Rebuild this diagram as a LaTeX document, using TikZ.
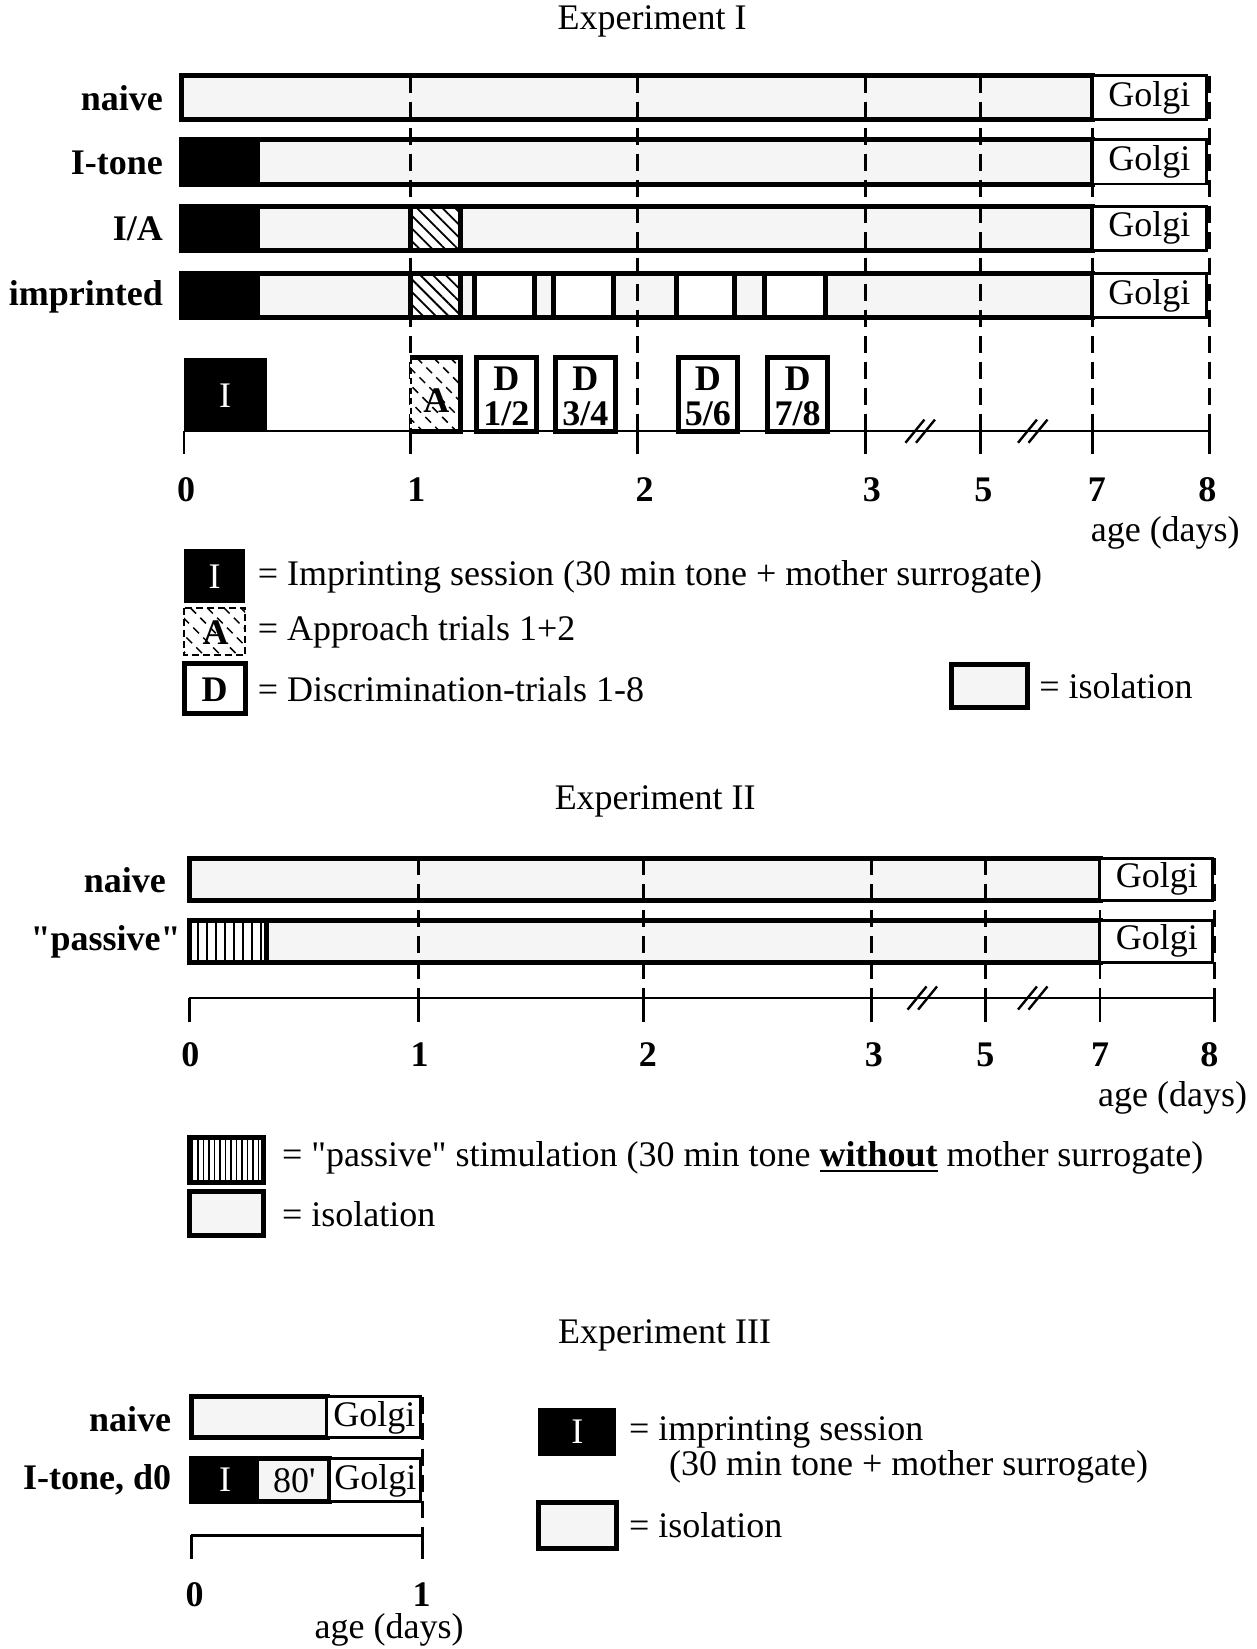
\documentclass[tikz,border=0pt]{standalone}
\usepackage{fontspec}
\setmainfont{Liberation Serif}
\usetikzlibrary{patterns.meta}
\newcommand\thickul[1]{\setbox0=\hbox{#1}\rlap{\rule[-6pt]{\wd0}{2.5pt}}\box0\relax}
\newcommand\dashhatch[4]{\begin{scope}\clip (#1,#2) rectangle (#3,#4);
  \foreach \k in {-90,-74,...,70} \draw[line width=1.5pt, dash pattern=on 8pt off 6pt] (#1+\k,#2) -- ++(100,100);
  \end{scope}}
\begin{document}
\begin{tikzpicture}[x=1.0519pt,y=-1.0519pt,
  every node/.style={font=\fontsize{36}{38}\selectfont, inner sep=0pt},
  lbl/.style={anchor=east, font=\fontsize{36}{38}\selectfont\bfseries},
  num/.style={font=\fontsize{36}{38}\selectfont\bfseries},
  bnode/.style={font=\fontsize{36}{35}\selectfont\bfseries, align=center},
  txt/.style={anchor=west},
  barline/.style={line width=5pt},
  iso/.style={fill=black!4},
  golgibox/.style={draw, line width=2.8pt, fill=white},
  dayline/.style={line width=2.8pt, dash pattern=on 17pt off 9pt},
  tickline/.style={line width=2.8pt},
  axisline/.style={line width=2.6pt},
  brk/.style={line width=2.4pt},
  hatch/.style={pattern={Lines[angle=-45,distance=9pt,line width=1.8pt]}},
  vstripe/.style={pattern={Lines[angle=90,distance=9pt,line width=2pt]}},
  vstripesmall/.style={pattern={Lines[angle=90,distance=5.5pt,line width=1.6pt]}},
]
\useasboundingbox (0,0) rectangle (1195,1568);

%%%%%%%%%%%%%%%% Experiment I
\node (t1) at (620,20) {Experiment I};
\node[lbl] (l1a) at (155,93) {naive};
\node[lbl] (l1b) at (155,155) {I-tone};
\node[lbl] (l1c) at (155,218) {I/A};
\node[lbl] (l1d) at (155,282) {imprinted};

% fills
\fill[iso] (173,72) rectangle (1039,114);
\fill[iso] (173,133) rectangle (1039,175);
\fill[black] (173,133) rectangle (247,175);
\fill[iso] (173,196) rectangle (1039,238);
\fill[black] (173,196) rectangle (247,238);
\fill[white] (390,196) rectangle (438,238);
\path[hatch] (390,196) rectangle (438,238);
\fill[iso] (173,260) rectangle (1039,302);
\fill[black] (173,260) rectangle (247,302);
\fill[white] (390,260) rectangle (438,302);
\path[hatch] (390,260) rectangle (438,302);
\foreach \a/\b in {451/508,526/583,643/698,727/785} \fill[white] (\a,260) rectangle (\b,302);

% day lines
\foreach \d in {390,606,823,932,1039,1150} \draw[dayline] (\d,72) -- (\d,410);

% borders
\draw[barline] (173,72) rectangle (1039,114);
\draw[barline] (173,133) rectangle (1039,175);
\draw[barline] (173,196) rectangle (1039,238);
\draw[barline] (173,260) rectangle (1039,302);
\foreach \v in {390,438} \draw[barline] (\v,196) -- (\v,238);
\foreach \v in {390,438,451,508,526,583,643,698,727,785} \draw[barline] (\v,260) -- (\v,302);
\foreach \y/\n in {72/ga,133/gb,196/gc,260/gd} {
  \draw[golgibox] (1039,\y) rectangle (1147,\y+42);
  \node (\n) at (1093,\y+21) {Golgi};
}

% event boxes
\fill[black] (175,340) rectangle (254,410);
\node[text=white] (tI) at (214,376) {I};
\fill[white] (390,340) rectangle (438,410);
\dashhatch{390}{340}{438}{410}
\draw[barline] (390,340) -- (438,340) -- (438,410) -- (390,410);
\draw[line width=1.8pt, dash pattern=on 6pt off 4pt] (391,340) -- (391,410);
\node[num] (tA) at (415,381) {A};
\foreach \a/\b/\t/\n in {453/510/1\slash 2/d1,528/585/3\slash 4/d2,645/701/5\slash 6/d3,730/787/7\slash 8/d4} {
  \draw[barline, fill=white] (\a,340) rectangle (\b,410);
  \node[bnode] (\n) at ({(\a+\b)/2},377) {D\\\t};
}

% axis
\draw[axisline] (175,410) -- (1150,410);
\foreach \d in {175,390,606,823,932,1039,1150} \draw[tickline] (\d,410) -- (\d,432);
\foreach \b in {878,985} {
  \draw[brk] (\b-17,421) -- (\b+1,399);
  \draw[brk] (\b-7,421) -- (\b+11,399);
}
\foreach \x/\t in {177/0,396/1,613/2,829/3,935/5,1043/7,1148/8} \node[num] (n1\t) at (\x,466) {\t};
\node (age1) at (1108,507) {age (days)};

% legend I
\fill[black] (175,522) rectangle (233,573);
\node[text=white] (lgI) at (204,548) {I};
\node[txt] (lgIt) at (245,549) {= Imprinting session (30 min tone + mother surrogate)};
\fill[white] (175,578) rectangle (233,623);
\dashhatch{175}{578}{233}{623}
\draw[line width=2.4pt, dash pattern=on 7pt off 4pt] (175,578) rectangle (233,623);
\node[num] (lgA) at (205,602) {A};
\node[txt] (lgAt) at (245,601) {= Approach trials 1+2};
\draw[barline, fill=white] (175,631) rectangle (233,678);
\node[num] (lgD) at (204,656) {D};
\node[txt] (lgDt) at (245,655) {= Discrimination-trials 1-8};
\draw[barline, iso] (905,632) rectangle (977,673);
\node[txt] (lgiso1) at (988,652) {= isolation};

%%%%%%%%%%%%%%%% Experiment II
\node (t2) at (623,762) {Experiment II};
\node[lbl] (l2a) at (158,837) {naive};
\node[lbl] (l2b) at (172,896) {\textquotedbl passive\textquotedbl};
\fill[iso] (180,816) rectangle (1046,856);
\fill[iso] (180,875) rectangle (1046,915);
\fill[white] (180,875) rectangle (253,915);
\path[vstripe] (180,875) rectangle (253,915);
\foreach \d in {398,612,829,937,1046,1155} \draw[dayline] (\d,816) -- (\d,949);
\draw[barline] (180,816) rectangle (1046,856);
\draw[barline] (180,875) rectangle (1046,915);
\draw[barline] (253,875) -- (253,915);
\foreach \y/\n in {816/ge,875/gf} {
  \draw[golgibox] (1046,\y) rectangle (1153,\y+40);
  \node (\n) at (1100,\y+20) {Golgi};
}
\draw[axisline] (180,949) -- (1155,949);
\foreach \d in {180,398,612,829,937,1046,1155} \draw[tickline] (\d,949) -- (\d,972);
\foreach \b in {880,985} {
  \draw[brk] (\b-17,960) -- (\b+1,938);
  \draw[brk] (\b-7,960) -- (\b+11,938);
}
\foreach \x/\t in {181/0,399/1,616/2,831/3,937/5,1046/7,1150/8} \node[num] (n2\t) at (\x,1003) {\t};
\node (age2) at (1115,1044) {age (days)};

% legend II
\fill[white] (180,1082) rectangle (251,1124);
\path[vstripesmall] (180,1082) rectangle (251,1124);
\draw[barline] (180,1082) rectangle (251,1124);
\node[txt] (lgPt) at (268,1101) {= \textquotedbl passive\textquotedbl{} stimulation (30 min tone \thickul{\textbf{without}} mother surrogate)};
\draw[barline, iso] (180,1133) rectangle (251,1175);
\node[txt] (lgiso2) at (268,1155) {= isolation};

%%%%%%%%%%%%%%%% Experiment III
\node (t3) at (632,1270) {Experiment III};
\node[lbl] (l3a) at (163,1349) {naive};
\node[lbl] (l3b) at (163,1407) {I-tone, d0};
\fill[iso] (182,1328) rectangle (311,1367);
\fill[iso] (182,1387) rectangle (313,1428);
\fill[black] (182,1387) rectangle (246,1428);
\draw[dayline] (402,1328) -- (402,1460);
\draw[barline] (182,1328) rectangle (311,1367);
\draw[barline] (182,1387) rectangle (313,1428);
\draw[golgibox] (311,1328) rectangle (400,1367);
\node (gg) at (356,1348) {Golgi};
\draw[golgibox] (313,1387) rectangle (400,1428);
\node (gh) at (357,1408) {Golgi};
\node[text=white] (e3I) at (214,1407) {I};
\node (e3m) at (280,1408) {80\textquotesingle};
\draw[axisline] (182,1460) -- (402,1460);
\foreach \d in {182,402} \draw[tickline] (\d,1460) -- (\d,1482);
\node[num] (n30) at (185,1516) {0};
\node[num] (n31) at (401,1516) {1};
\node (age3) at (370,1550) {age (days)};

% legend III
\fill[black] (512,1339) rectangle (586,1384);
\node[text=white] (lg3I) at (549,1361) {I};
\node[txt] (lg3It) at (598,1362) {= imprinting session};
\node[txt] (lg3It2) at (636,1395) {(30 min tone + mother surrogate)};
\draw[barline, iso] (512,1429) rectangle (586,1472);
\node[txt] (lgiso3) at (598,1450) {= isolation};
\end{tikzpicture}
\end{document}
